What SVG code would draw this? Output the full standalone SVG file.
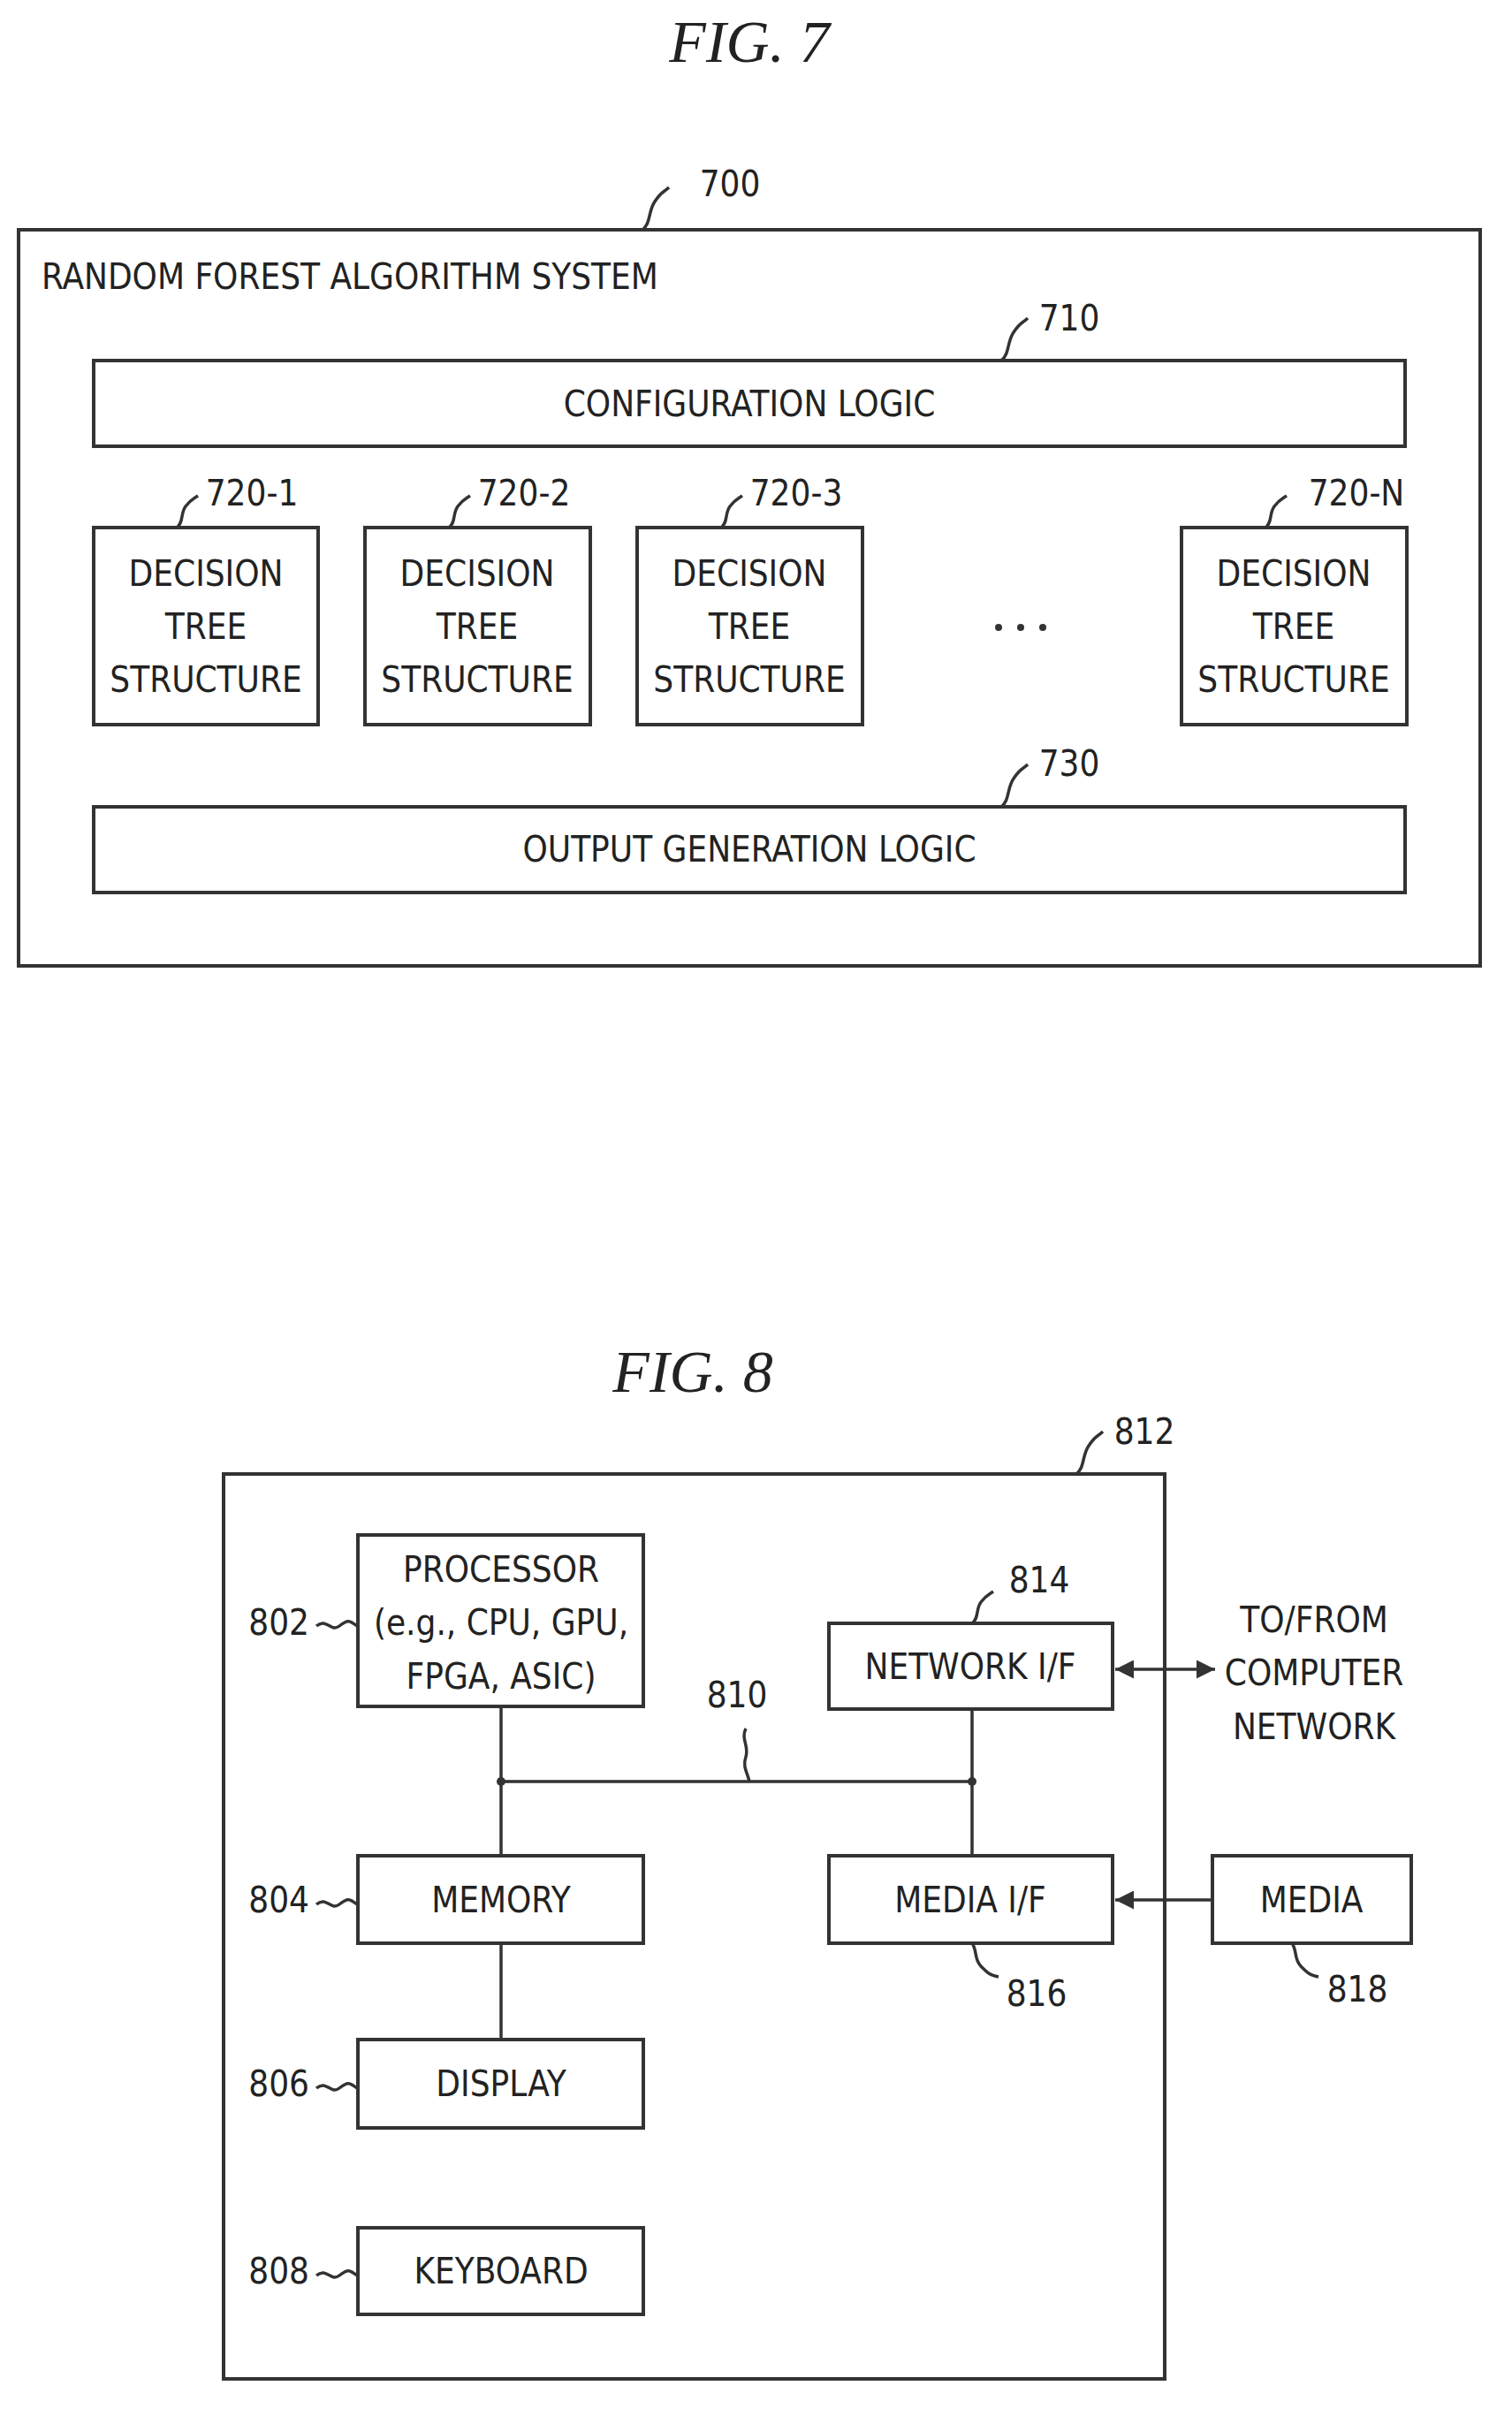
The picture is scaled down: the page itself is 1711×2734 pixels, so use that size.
<svg xmlns="http://www.w3.org/2000/svg" width="1711" height="2734" viewBox="0 0 1711 2734">
<style>
text{font-family:"DejaVu Sans Condensed","Liberation Sans Narrow","Liberation Sans",sans-serif;font-size:40px;fill:#222;text-anchor:middle}
.t{font-family:"Liberation Serif",serif;font-style:italic;font-size:68px}
.b{fill:#fff;stroke:#333;stroke-width:4}
.l{fill:none;stroke:#333;stroke-width:3.5}
.r{text-anchor:end}
</style>
<defs><marker id="a" viewBox="0 0 10 10" refX="10" refY="5" markerWidth="6" markerHeight="6" orient="auto-start-reverse"><path d="M0,0L10,5L0,10z" fill="#333"/></marker></defs>
<rect width="1711" height="2734" fill="#fff"/>
<text class="t" x="848" y="70">FIG.  7</text>
<g id="n700"><rect class="b" x="21" y="260" width="1654" height="833"/><text x="47" y="327" style="text-anchor:start">RANDOM FOREST ALGORITHM SYSTEM</text><text x="826" y="222">700</text><path class="l" d="M727,260c10,-8 6,-20 14,-32s10,-10 16,-16"/></g>
<g id="n710"><rect class="b" x="106" y="408" width="1484" height="97"/><text x="848" y="471">CONFIGURATION LOGIC</text><text x="1210" y="374">710</text><path class="l" d="M1133,408c10,-8 6,-20 14,-32s10,-10 16,-16"/></g>
<g id="n720-1"><rect class="b" x="106" y="597" width="254" height="223"/><text x="233" y="663">DECISION</text><text x="233" y="723">TREE</text><text x="233" y="783">STRUCTURE</text><text x="285" y="572">720-1</text><path class="l" d="M200,597c8,-6 4,-16 10,-24s8,-8 14,-12"/></g>
<g id="n720-2"><rect class="b" x="413" y="597" width="255" height="223"/><text x="540" y="663">DECISION</text><text x="540" y="723">TREE</text><text x="540" y="783">STRUCTURE</text><text x="593" y="572">720-2</text><path class="l" d="M508,597c8,-6 4,-16 10,-24s8,-8 14,-12"/></g>
<g id="n720-3"><rect class="b" x="721" y="597" width="255" height="223"/><text x="848" y="663">DECISION</text><text x="848" y="723">TREE</text><text x="848" y="783">STRUCTURE</text><text x="901" y="572">720-3</text><path class="l" d="M816,597c8,-6 4,-16 10,-24s8,-8 14,-12"/></g>
<g id="dots"><circle cx="1130" cy="710" r="4" fill="#333"/><circle cx="1155" cy="710" r="4" fill="#333"/><circle cx="1180" cy="710" r="4" fill="#333"/></g>
<g id="n720-N"><rect class="b" x="1337" y="597" width="255" height="223"/><text x="1464" y="663">DECISION</text><text x="1464" y="723">TREE</text><text x="1464" y="783">STRUCTURE</text><text x="1535" y="572">720-N</text><path class="l" d="M1432,597c8,-6 4,-16 10,-24s8,-8 14,-12"/></g>
<g id="n730"><rect class="b" x="106" y="913" width="1484" height="97"/><text x="848" y="975">OUTPUT GENERATION LOGIC</text><text x="1210" y="878">730</text><path class="l" d="M1133,913c10,-8 6,-20 14,-32s10,-10 16,-16"/></g>

<text class="t" x="784" y="1575">FIG.  8</text>
<g id="n812"><rect class="b" x="253" y="1668" width="1065" height="1024"/><text x="1295" y="1634">812</text><path class="l" d="M1218,1668c10,-8 6,-20 14,-32s10,-10 16,-16"/></g>
<g id="connectors">
<path class="l" d="M567,1931V2100M1100,1934V2100M567,2016H1100M567,2199V2308"/>
<circle cx="567" cy="2016" r="5" fill="#333"/><circle cx="1100" cy="2016" r="5" fill="#333"/>
<path class="l" d="M1372,2150H1262" marker-end="url(#a)"/>
<path class="l" d="M1262,1889H1375" marker-start="url(#a)" marker-end="url(#a)"/>
<path class="l" d="M844,1956c-6,12 4,20 0,32s2,18 4,28"/>
</g>
<text x="834" y="1932">810</text>
<g id="n802"><rect class="b" x="405" y="1737" width="323" height="194"/><text x="567" y="1790">PROCESSOR</text><text x="567" y="1850">(e.g., CPU, GPU,</text><text x="567" y="1911">FPGA, ASIC)</text><text class="r" x="350" y="1850">802</text><path class="l" d="M358,1840c12,-10 16,8 26,0s12,-6 20,0"/></g>
<g id="n814"><rect class="b" x="938" y="1837" width="321" height="97"/><text x="1098" y="1900">NETWORK I/F</text><text x="1176" y="1802">814</text><path class="l" d="M1100,1837c8,-6 4,-16 10,-24s8,-8 14,-12"/></g>
<g id="net"><text x="1487" y="1847">TO/FROM</text><text x="1487" y="1907">COMPUTER</text><text x="1487" y="1968">NETWORK</text></g>
<g id="n804"><rect class="b" x="405" y="2100" width="323" height="99"/><text x="567" y="2164">MEMORY</text><text class="r" x="350" y="2164">804</text><path class="l" d="M358,2155c12,-10 16,8 26,0s12,-6 20,0"/></g>
<g id="n806"><rect class="b" x="405" y="2308" width="323" height="100"/><text x="567" y="2372">DISPLAY</text><text class="r" x="350" y="2372">806</text><path class="l" d="M358,2363c12,-10 16,8 26,0s12,-6 20,0"/></g>
<g id="n808"><rect class="b" x="405" y="2521" width="323" height="98"/><text x="567" y="2584">KEYBOARD</text><text class="r" x="350" y="2584">808</text><path class="l" d="M358,2575c12,-10 16,8 26,0s12,-6 20,0"/></g>
<g id="n816"><rect class="b" x="938" y="2100" width="321" height="99"/><text x="1098" y="2164">MEDIA I/F</text><text x="1173" y="2270">816</text><path class="l" d="M1100,2199c6,8 2,18 10,26s10,10 20,12"/></g>
<g id="n818"><rect class="b" x="1372" y="2100" width="225" height="99"/><text x="1484" y="2164">MEDIA</text><text x="1536" y="2265">818</text><path class="l" d="M1462,2199c6,8 2,18 10,26s10,10 20,12"/></g>
</svg>
